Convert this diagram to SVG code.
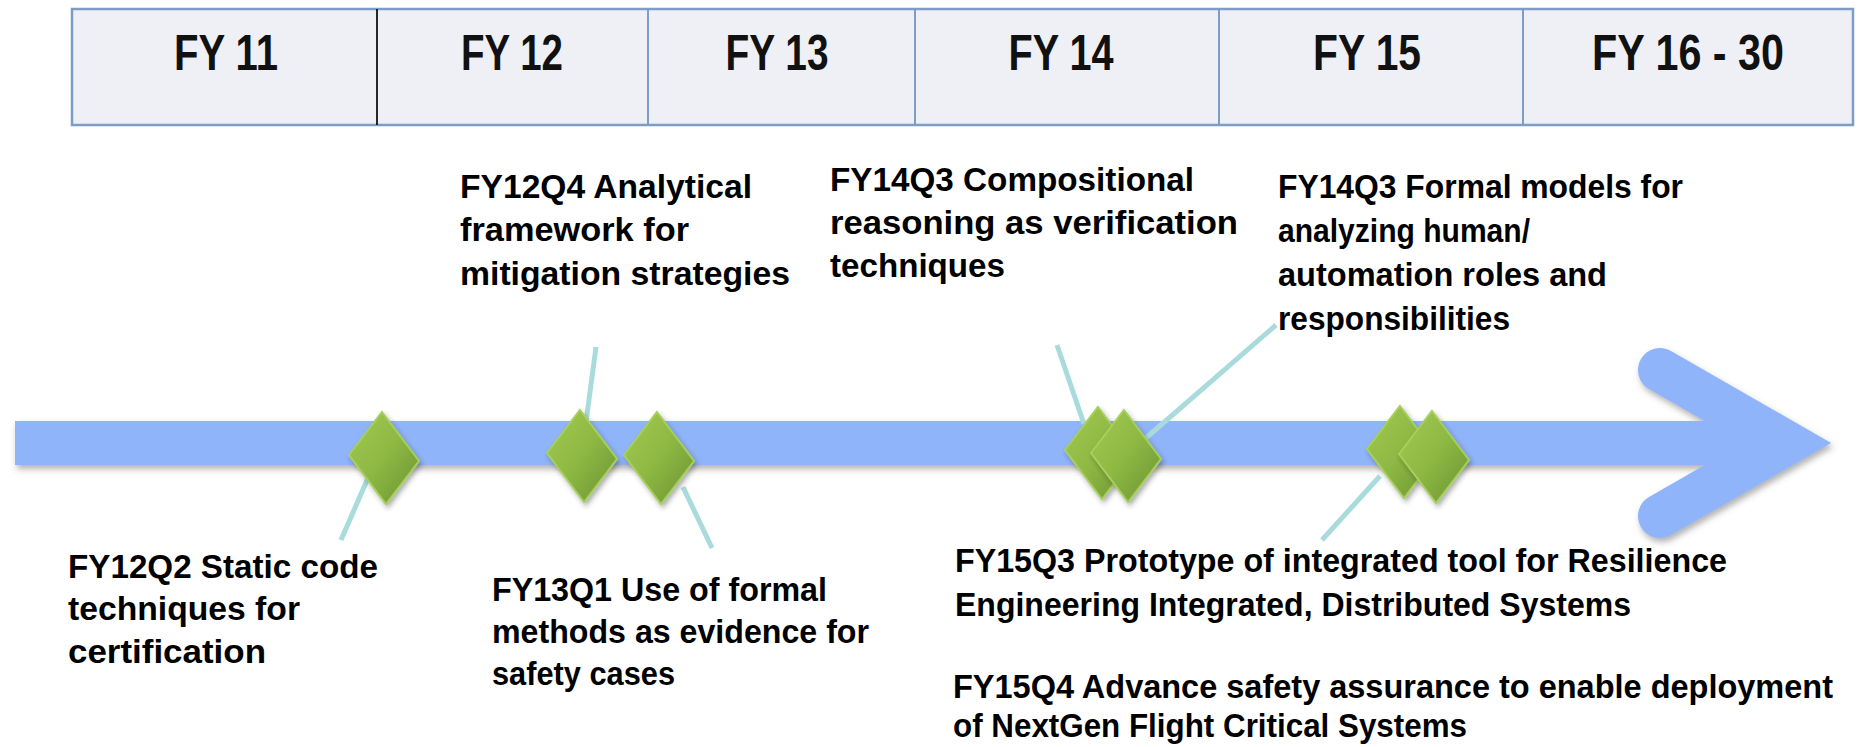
<svg xmlns="http://www.w3.org/2000/svg" width="1858" height="747" viewBox="0 0 1858 747">
<defs>
  <linearGradient id="gd" x1="0" y1="0" x2="1" y2="1">
    <stop offset="0" stop-color="#A3CA52"/>
    <stop offset="0.5" stop-color="#8DB843"/>
    <stop offset="1" stop-color="#6A9131"/>
  </linearGradient>
  <filter id="sh" x="-10%" y="-30%" width="120%" height="160%">
    <feDropShadow dx="2" dy="4" stdDeviation="3" flood-color="#555" flood-opacity="0.45"/>
  </filter>
  <filter id="dsh" x="-30%" y="-30%" width="160%" height="160%">
    <feDropShadow dx="2" dy="3" stdDeviation="2.5" flood-color="#333" flood-opacity="0.4"/>
  </filter>
  <path id="dia" d="M-2,-46 L35,3 L2,46 L-35,-3 Z"/>
</defs>
<style>
  .hdr { fill: #EEF0F6; stroke: #7E9DC6; stroke-width: 2.5; }
  .div { stroke: #7E9DC6; stroke-width: 2; }
  .ht { font-family: "Liberation Sans", Arial, sans-serif; font-weight: bold; font-size: 50px; fill: #111; text-anchor: middle; }
  .lt { font-family: "Liberation Sans", Arial, sans-serif; font-weight: bold; font-size: 34px; fill: #000; }
  .arrow { fill: #8FB4FA; }
  .chev { fill: none; stroke: #8FB4FA; stroke-width: 44; stroke-linecap: round; stroke-linejoin: miter; stroke-miterlimit: 6; }
  .con { stroke: #A9DBDD; stroke-width: 5; fill: none; }
  .dm { fill: url(#gd); stroke: #A6CF5C; stroke-width: 2; filter: url(#dsh); }
</style>
<rect width="1858" height="747" fill="#FFFFFF"/>

<g id="header">
  <rect class="hdr" x="72" y="9" width="1781" height="116"/>
  <line x1="377" y1="9" x2="377" y2="125" stroke="#111" stroke-width="1.8"/>
  <line class="div" x1="648" y1="9" x2="648" y2="125"/>
  <line class="div" x1="915" y1="9" x2="915" y2="125"/>
  <line class="div" x1="1219" y1="9" x2="1219" y2="125"/>
  <line class="div" x1="1523" y1="9" x2="1523" y2="125"/>
  <text class="ht" x="226" y="70" textLength="104" lengthAdjust="spacingAndGlyphs">FY 11</text>
  <text class="ht" x="512" y="70" textLength="102" lengthAdjust="spacingAndGlyphs">FY 12</text>
  <text class="ht" x="777" y="70" textLength="103" lengthAdjust="spacingAndGlyphs">FY 13</text>
  <text class="ht" x="1061" y="70" textLength="105" lengthAdjust="spacingAndGlyphs">FY 14</text>
  <text class="ht" x="1367" y="70" textLength="108" lengthAdjust="spacingAndGlyphs">FY 15</text>
  <text class="ht" x="1688" y="70" textLength="192" lengthAdjust="spacingAndGlyphs">FY 16 - 30</text>
</g>

<g id="timeline" filter="url(#sh)">
  <rect class="arrow" x="15" y="421" width="1745" height="44"/>
  <polyline class="chev" points="1660,370 1787,443 1660,516"/>
</g>

<g id="connectors">
  <line class="con" x1="368" y1="478" x2="341" y2="540"/>
  <line class="con" x1="596" y1="347" x2="586" y2="422"/>
  <line class="con" x1="683" y1="487" x2="712" y2="548"/>
  <line class="con" x1="1057" y1="345" x2="1084" y2="424"/>
  <line class="con" x1="1146" y1="438" x2="1276" y2="325"/>
  <line class="con" x1="1380" y1="476" x2="1322" y2="540"/>
</g>

<g id="m-fy12q2"><use href="#dia" class="dm" transform="translate(384,458)"/></g>
<g id="m-fy12q4"><use href="#dia" class="dm" transform="translate(582,456)"/></g>
<g id="m-fy13q1"><use href="#dia" class="dm" transform="translate(659,458)"/></g>
<g id="m-fy14q3a"><use href="#dia" class="dm" transform="translate(1100,453)"/></g>
<g id="m-fy14q3b"><use href="#dia" class="dm" transform="translate(1126,456)"/></g>
<g id="m-fy15q3"><use href="#dia" class="dm" transform="translate(1402,452)"/></g>
<g id="m-fy15q4"><use href="#dia" class="dm" transform="translate(1434,457)"/></g>

<g id="label-fy12q4">
  <text class="lt" x="460" y="198" textLength="292" lengthAdjust="spacingAndGlyphs">FY12Q4 Analytical</text>
  <text class="lt" x="460" y="241" textLength="229" lengthAdjust="spacingAndGlyphs">framework for</text>
  <text class="lt" x="460" y="285" textLength="330" lengthAdjust="spacingAndGlyphs">mitigation strategies</text>
</g>
<g id="label-fy14q3-comp">
  <text class="lt" x="830" y="191" textLength="364" lengthAdjust="spacingAndGlyphs">FY14Q3 Compositional</text>
  <text class="lt" x="830" y="234" textLength="408" lengthAdjust="spacingAndGlyphs">reasoning as verification</text>
  <text class="lt" x="830" y="277" textLength="175" lengthAdjust="spacingAndGlyphs">techniques</text>
</g>
<g id="label-fy14q3-formal">
  <text class="lt" x="1278" y="198" textLength="405" lengthAdjust="spacingAndGlyphs">FY14Q3 Formal models for</text>
  <text class="lt" x="1278" y="242" textLength="252" lengthAdjust="spacingAndGlyphs">analyzing human/</text>
  <text class="lt" x="1278" y="286" textLength="329" lengthAdjust="spacingAndGlyphs">automation roles and</text>
  <text class="lt" x="1278" y="330" textLength="232" lengthAdjust="spacingAndGlyphs">responsibilities</text>
</g>
<g id="label-fy12q2">
  <text class="lt" x="68" y="578" textLength="310" lengthAdjust="spacingAndGlyphs">FY12Q2 Static code</text>
  <text class="lt" x="68" y="620" textLength="232" lengthAdjust="spacingAndGlyphs">techniques for</text>
  <text class="lt" x="68" y="663" textLength="198" lengthAdjust="spacingAndGlyphs">certification</text>
</g>
<g id="label-fy13q1">
  <text class="lt" x="492" y="601" textLength="335" lengthAdjust="spacingAndGlyphs">FY13Q1 Use of formal</text>
  <text class="lt" x="492" y="643" textLength="377" lengthAdjust="spacingAndGlyphs">methods as evidence for</text>
  <text class="lt" x="492" y="685" textLength="183" lengthAdjust="spacingAndGlyphs">safety cases</text>
</g>
<g id="label-fy15q3">
  <text class="lt" x="955" y="572" textLength="772" lengthAdjust="spacingAndGlyphs">FY15Q3 Prototype of integrated tool for Resilience</text>
  <text class="lt" x="955" y="616" textLength="676" lengthAdjust="spacingAndGlyphs">Engineering Integrated, Distributed Systems</text>
</g>
<g id="label-fy15q4">
  <text class="lt" x="953" y="698" font-size="31" textLength="880" lengthAdjust="spacingAndGlyphs">FY15Q4 Advance safety assurance to enable deployment</text>
  <text class="lt" x="953" y="737" textLength="514" lengthAdjust="spacingAndGlyphs">of NextGen Flight Critical Systems</text>
</g>
</svg>
